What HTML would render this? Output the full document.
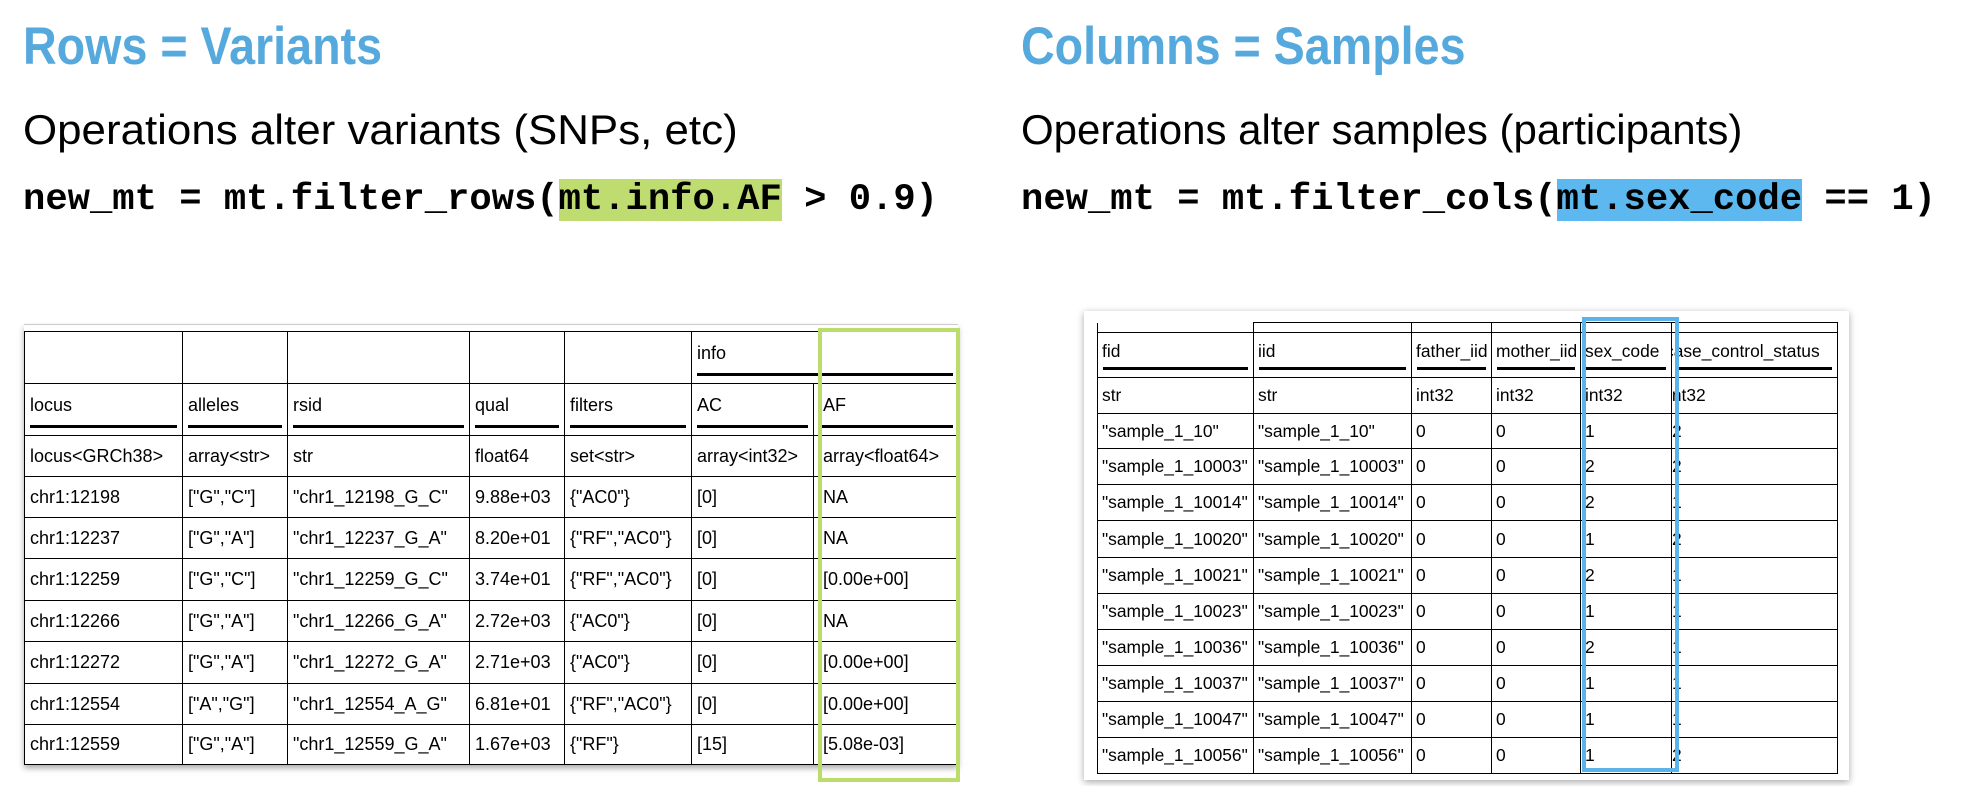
<!DOCTYPE html>
<html><head><meta charset="utf-8">
<style>
html,body{margin:0;padding:0;background:#fff;}
body{width:1982px;height:786px;position:relative;overflow:hidden;font-family:"Liberation Sans",sans-serif;}
.t{position:absolute;white-space:nowrap;line-height:1;transform-origin:0 0;}
.title{font-size:53px;font-weight:bold;color:#56a9dd;transform:scaleX(0.88);}
.sub{font-size:42px;color:#000;transform:scaleX(1.0);}
.code{font-family:"Liberation Mono",monospace;font-weight:bold;font-size:37.2px;color:#000;}
.hg{background:#bfdc70;}
.hb{background:#5cb8ee;}
table{position:absolute;border-collapse:collapse;table-layout:fixed;font-size:18px;}
td{border:1.5px solid #000;padding:0 0 0 5px;white-space:nowrap;overflow:hidden;vertical-align:middle;}
td.h{position:relative;vertical-align:middle;}
td.h span{position:relative;top:-4px;}
td.h::after{content:"";position:absolute;left:5px;right:5px;bottom:7px;height:3.5px;background:#000;}
td.e{border-top:none;}
#lt td:nth-child(7){padding-left:9px;}
#rt{font-size:17.4px;}
#rt td{padding-left:4px;}
</style></head><body>

<div class="t title" style="left:23px;top:20px;">Rows = Variants</div>
<div class="t sub" style="left:23px;top:109px;transform:scaleX(1.045);">Operations alter variants (SNPs, etc)</div>
<div class="t code" style="left:23px;top:182px;">new_mt = mt.filter_rows(<span class="hg">mt.info.AF</span> &gt; 0.9)</div>

<div class="t title" style="left:1021px;top:20px;">Columns = Samples</div>
<div class="t sub" style="left:1021px;top:109px;">Operations alter samples (participants)</div>
<div class="t code" style="left:1021px;top:182px;">new_mt = mt.filter_cols(<span class="hb">mt.sex_code</span> == 1)</div>

<!-- left table -->
<div style="position:absolute;left:24px;top:325px;width:934px;height:440px;box-shadow:0 3px 6px rgba(0,0,0,0.35);background:#fff;"></div>
<div style="position:absolute;left:24px;top:324px;width:934px;height:1px;background:#ccc;"></div>
<table id="lt" style="left:24px;top:331px;width:934px;">
<colgroup><col style="width:158px"><col style="width:105px"><col style="width:182px"><col style="width:95px"><col style="width:127px"><col style="width:122px"><col style="width:145px"></colgroup>
<tr style="height:52px"><td></td><td></td><td></td><td></td><td></td><td class="h" colspan="2"><span>info</span></td></tr>
<tr style="height:52px"><td class="h"><span>locus</span></td><td class="h"><span>alleles</span></td><td class="h"><span>rsid</span></td><td class="h"><span>qual</span></td><td class="h"><span>filters</span></td><td class="h"><span>AC</span></td><td class="h"><span>AF</span></td></tr>
<tr style="height:41px"><td>locus&lt;GRCh38&gt;</td><td>array&lt;str&gt;</td><td>str</td><td>float64</td><td>set&lt;str&gt;</td><td>array&lt;int32&gt;</td><td>array&lt;float64&gt;</td></tr>
<tr style="height:41px"><td>chr1:12198</td><td>["G","C"]</td><td>"chr1_12198_G_C"</td><td>9.88e+03</td><td>{"AC0"}</td><td>[0]</td><td>NA</td></tr>
<tr style="height:41px"><td>chr1:12237</td><td>["G","A"]</td><td>"chr1_12237_G_A"</td><td>8.20e+01</td><td>{"RF","AC0"}</td><td>[0]</td><td>NA</td></tr>
<tr style="height:42px"><td>chr1:12259</td><td>["G","C"]</td><td>"chr1_12259_G_C"</td><td>3.74e+01</td><td>{"RF","AC0"}</td><td>[0]</td><td>[0.00e+00]</td></tr>
<tr style="height:41px"><td>chr1:12266</td><td>["G","A"]</td><td>"chr1_12266_G_A"</td><td>2.72e+03</td><td>{"AC0"}</td><td>[0]</td><td>NA</td></tr>
<tr style="height:42px"><td>chr1:12272</td><td>["G","A"]</td><td>"chr1_12272_G_A"</td><td>2.71e+03</td><td>{"AC0"}</td><td>[0]</td><td>[0.00e+00]</td></tr>
<tr style="height:41px"><td>chr1:12554</td><td>["A","G"]</td><td>"chr1_12554_A_G"</td><td>6.81e+01</td><td>{"RF","AC0"}</td><td>[0]</td><td>[0.00e+00]</td></tr>
<tr style="height:40px"><td>chr1:12559</td><td>["G","A"]</td><td>"chr1_12559_G_A"</td><td>1.67e+03</td><td>{"RF"}</td><td>[15]</td><td>[5.08e-03]</td></tr>
</table>
<div style="position:absolute;left:818px;top:328px;width:134px;height:446px;border:4px solid #bcdc6c;"></div>

<!-- right table -->
<div style="position:absolute;left:1084px;top:311px;width:765px;height:469px;box-shadow:0 2px 7px rgba(0,0,0,0.35);background:#fff;"></div>
<table id="rt" style="left:1097px;top:322px;width:740px;">
<colgroup><col style="width:156px"><col style="width:158px"><col style="width:80px"><col style="width:89px"><col style="width:91px"><col style="width:166px"></colgroup>
<tr style="height:10px"><td class="e" style="border-bottom:1.5px solid #000"></td><td></td><td></td><td></td><td></td><td></td></tr>
<tr style="height:45px"><td class="h"><span>fid</span></td><td class="h"><span>iid</span></td><td class="h"><span>father_iid</span></td><td class="h"><span>mother_iid</span></td><td class="h"><span>sex_code</span></td><td class="h" style="padding-left:0"><span style="margin-left:-7px">case_control_status</span></td></tr>
<tr style="height:36px"><td>str</td><td>str</td><td>int32</td><td>int32</td><td>int32</td><td style="padding-left:0"><span style="margin-left:-4px">int32</span></td></tr>
<tr style="height:35px"><td>"sample_1_10"</td><td>"sample_1_10"</td><td>0</td><td>0</td><td>1</td><td style="padding-left:0">2</td></tr>
<tr style="height:36px"><td>"sample_1_10003"</td><td>"sample_1_10003"</td><td>0</td><td>0</td><td>2</td><td style="padding-left:0">2</td></tr>
<tr style="height:36px"><td>"sample_1_10014"</td><td>"sample_1_10014"</td><td>0</td><td>0</td><td>2</td><td style="padding-left:0">1</td></tr>
<tr style="height:37px"><td>"sample_1_10020"</td><td>"sample_1_10020"</td><td>0</td><td>0</td><td>1</td><td style="padding-left:0">2</td></tr>
<tr style="height:36px"><td>"sample_1_10021"</td><td>"sample_1_10021"</td><td>0</td><td>0</td><td>2</td><td style="padding-left:0">1</td></tr>
<tr style="height:36px"><td>"sample_1_10023"</td><td>"sample_1_10023"</td><td>0</td><td>0</td><td>1</td><td style="padding-left:0">1</td></tr>
<tr style="height:36px"><td>"sample_1_10036"</td><td>"sample_1_10036"</td><td>0</td><td>0</td><td>2</td><td style="padding-left:0">1</td></tr>
<tr style="height:36px"><td>"sample_1_10037"</td><td>"sample_1_10037"</td><td>0</td><td>0</td><td>1</td><td style="padding-left:0">1</td></tr>
<tr style="height:36px"><td>"sample_1_10047"</td><td>"sample_1_10047"</td><td>0</td><td>0</td><td>1</td><td style="padding-left:0">1</td></tr>
<tr style="height:36px"><td>"sample_1_10056"</td><td>"sample_1_10056"</td><td>0</td><td>0</td><td>1</td><td style="padding-left:0">2</td></tr>
</table>
<div style="position:absolute;left:1582px;top:317px;width:89px;height:447px;border:4px solid #5ab4ea;"></div>

</body></html>
